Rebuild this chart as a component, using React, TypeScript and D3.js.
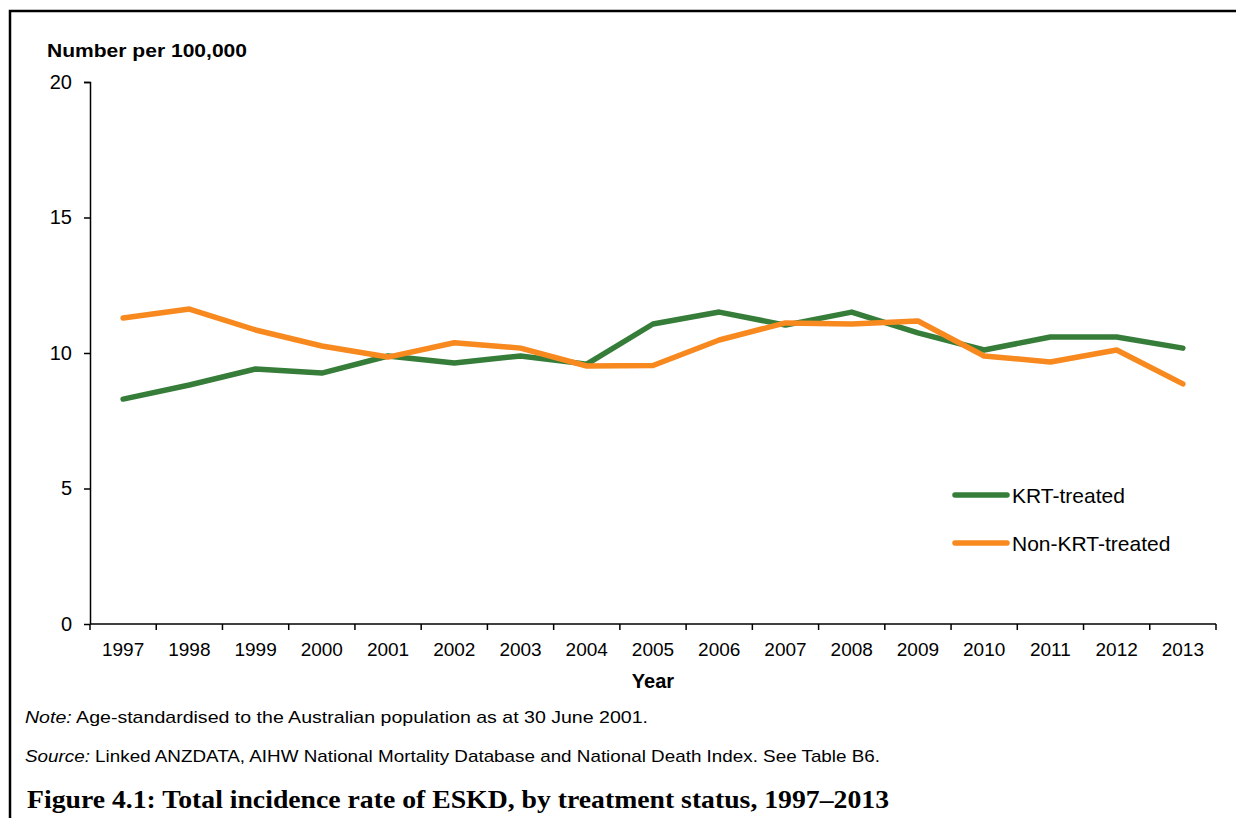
import React, { useEffect, useRef } from 'react';
import * as d3 from 'd3';

const years = ['1997', '1998', '1999', '2000', '2001', '2002', '2003', '2004', '2005',
  '2006', '2007', '2008', '2009', '2010', '2011', '2012', '2013'];

const krtTreated = [8.3, 8.82, 9.41, 9.26, 9.89, 9.63, 9.89, 9.59, 11.07,
  11.51, 11.03, 11.51, 10.74, 10.11, 10.59, 10.59, 10.18];

const nonKrtTreated = [11.29, 11.62, 10.85, 10.26, 9.85, 10.38, 10.18, 9.52, 9.54,
  10.48, 11.11, 11.07, 11.18, 9.89, 9.67, 10.11, 8.86];

const yTicks = [0, 5, 10, 15, 20];

const series = [
  { name: 'KRT-treated', values: krtTreated, color: '#367D3A' },
  { name: 'Non-KRT-treated', values: nonKrtTreated, color: '#F7891F' },
];

const App = () => {
  const svgRef = useRef<SVGSVGElement>(null);

  useEffect(() => {
    const width = 1236;
    const height = 818;
    const sans = '"Liberation Sans", Arial, sans-serif';

    const svg = d3.select(svgRef.current)
      .attr('width', width)
      .attr('height', height);
    svg.selectAll('*').remove();

    // frame (cut off on right and bottom)
    svg.append('path')
      .attr('d', `M10,${height} V11 H${width}`)
      .attr('fill', 'none')
      .attr('stroke', '#000')
      .attr('stroke-width', 2.5);

    const x = d3.scaleBand()
      .domain(years)
      .range([90, 1216]);

    const y = d3.scaleLinear()
      .domain([0, 20])
      .range([624, 82]);

    // y axis
    const yAxis = svg.append('g')
      .attr('transform', 'translate(90,0)')
      .call(d3.axisLeft(y).tickValues(yTicks).tickSize(6).tickPadding(12));
    yAxis.select('.domain').attr('stroke-width', 1.5).attr('d', `M-6,82.5H0.5V624.5`);
    yAxis.selectAll('line').attr('stroke-width', 1.5);
    yAxis.selectAll('text')
      .style('font-family', sans)
      .style('font-size', '20px')
      .attr('fill', '#000');

    // x axis: ticks at category boundaries
    const xg = svg.append('g').attr('transform', 'translate(0,624)');
    xg.append('line')
      .attr('x1', 90).attr('x2', 1216)
      .attr('stroke', '#000').attr('stroke-width', 1.5);
    const bounds = years.map(d => x(d) as number).concat([1216]);
    xg.selectAll('line.tick')
      .data(bounds)
      .enter()
      .append('line')
      .attr('class', 'tick')
      .attr('x1', d => d).attr('x2', d => d)
      .attr('y1', 0).attr('y2', 6)
      .attr('stroke', '#000').attr('stroke-width', 1.5);
    xg.selectAll('text')
      .data(years)
      .enter()
      .append('text')
      .attr('x', d => (x(d) as number) + x.bandwidth() / 2)
      .attr('y', 32)
      .attr('text-anchor', 'middle')
      .style('font-family', sans)
      .style('font-size', '19px')
      .text(d => d);

    // lines
    const line = d3.line<number>()
      .x((_, i) => (x(years[i]) as number) + x.bandwidth() / 2)
      .y(d => y(d));

    series.forEach(s => {
      svg.append('path')
        .datum(s.values)
        .attr('d', line)
        .attr('fill', 'none')
        .attr('stroke', s.color)
        .attr('stroke-width', 5.5)
        .attr('stroke-linecap', 'round')
        .attr('stroke-linejoin', 'round');
    });

    // legend
    const legend = svg.append('g');
    series.forEach((s, i) => {
      const ly = 495 + i * 48;
      legend.append('line')
        .attr('x1', 955).attr('x2', 1007)
        .attr('y1', ly).attr('y2', ly)
        .attr('stroke', s.color)
        .attr('stroke-width', 5.5)
        .attr('stroke-linecap', 'round');
      legend.append('text')
        .attr('x', 1012).attr('y', ly + 7.5)
        .style('font-family', sans)
        .style('font-size', '21px')
        .text(s.name);
    });

    // titles
    svg.append('text')
      .attr('x', 47).attr('y', 57)
      .attr('textLength', 200)
      .attr('lengthAdjust', 'spacingAndGlyphs')
      .style('font-family', sans)
      .style('font-size', '19px')
      .style('font-weight', 'bold')
      .text('Number per 100,000');

    svg.append('text')
      .attr('x', 653).attr('y', 688)
      .attr('text-anchor', 'middle')
      .style('font-family', sans)
      .style('font-size', '20px')
      .style('font-weight', 'bold')
      .text('Year');

    const note = svg.append('text')
      .attr('x', 25).attr('y', 723)
      .attr('textLength', 623)
      .attr('lengthAdjust', 'spacingAndGlyphs')
      .style('font-family', sans)
      .style('font-size', '17px');
    note.append('tspan').style('font-style', 'italic').text('Note:');
    note.append('tspan').text(' Age-standardised to the Australian population as at 30 June 2001.');

    const source = svg.append('text')
      .attr('x', 25).attr('y', 762)
      .attr('textLength', 855)
      .attr('lengthAdjust', 'spacingAndGlyphs')
      .style('font-family', sans)
      .style('font-size', '17px');
    source.append('tspan').style('font-style', 'italic').text('Source:');
    source.append('tspan').text(' Linked ANZDATA, AIHW National Mortality Database and National Death Index. See Table B6.');

    svg.append('text')
      .attr('x', 27).attr('y', 808)
      .attr('textLength', 862)
      .attr('lengthAdjust', 'spacingAndGlyphs')
      .style('font-family', '"Liberation Serif", "DejaVu Serif", serif')
      .style('font-size', '25px')
      .style('font-weight', 'bold')
      .text('Figure 4.1: Total incidence rate of ESKD, by treatment status, 1997\u20132013');
  }, []);

  return (
    <div style={{ position: 'absolute', left: 0, top: 0 }}>
      <svg ref={svgRef} style={{ display: 'block', background: '#fff' }}></svg>
    </div>
  );
};

export default App;
